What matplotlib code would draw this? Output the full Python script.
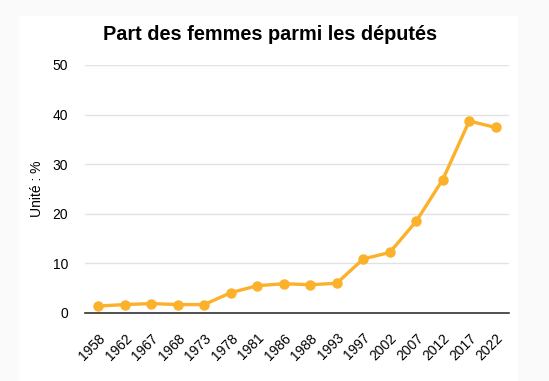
import numpy as np
import matplotlib.pyplot as plt
from matplotlib.patches import Rectangle

plt.rcParams['font.family'] = ['Liberation Sans', 'DejaVu Sans']

years = ['1958', '1962', '1967', '1968', '1973', '1978', '1981', '1986',
         '1988', '1993', '1997', '2002', '2007', '2012', '2017', '2022']
share = [1.4, 1.7, 1.9, 1.7, 1.7, 4.1, 5.5, 5.9,
         5.7, 6.0, 10.9, 12.2, 18.5, 26.9, 38.7, 37.4]

line_color = '#fcb12b'

fig = plt.figure(figsize=(5.49, 3.81), dpi=100)
fig.patch.set_facecolor('#fafafa')
# white card behind the chart
card = Rectangle((19 / 549, 0), (518 - 19) / 549, 1 - 16 / 381,
                 transform=fig.transFigure, facecolor='white',
                 edgecolor='none', zorder=-10)
fig.add_artist(card)

ax = fig.add_axes([85 / 549, 1 - 313 / 381, (509 - 85) / 549, (313 - 65) / 381])
ax.set_zorder(1)
ax.set_facecolor('white')

x = np.arange(len(years))
ax.plot(x, share, color=line_color, lw=2.4, marker='o', ms=6.5, zorder=3,
        clip_on=False)

ax.set_xlim(-0.5, len(years) - 0.5)
ax.set_ylim(0, 50)
ax.set_yticks(range(0, 51, 10))
ax.set_xticks(x)
ax.set_xticklabels(years, rotation=45, ha='right', rotation_mode='anchor',
                   fontsize=10)
ax.tick_params(axis='y', labelsize=10, length=0, pad=12)
ax.tick_params(axis='x', length=0, pad=13)
ax.grid(axis='y', color='#e2e2e2', lw=1)
ax.set_axisbelow(True)
for s in ['top', 'right', 'left']:
    ax.spines[s].set_visible(False)
ax.spines['bottom'].set_color('#333333')
ax.spines['bottom'].set_linewidth(1.2)

ax.set_ylabel('Unité : %', fontsize=10)
ax.yaxis.set_label_coords((44 - 85) / 424, 0.5)
fig.text(270 / 549, 1 - 35 / 381, 'Part des femmes parmi les députés',
         ha='center', va='center', fontsize=14.3, fontweight='bold')

fig.savefig('out.png', dpi=100, facecolor=fig.get_facecolor())
